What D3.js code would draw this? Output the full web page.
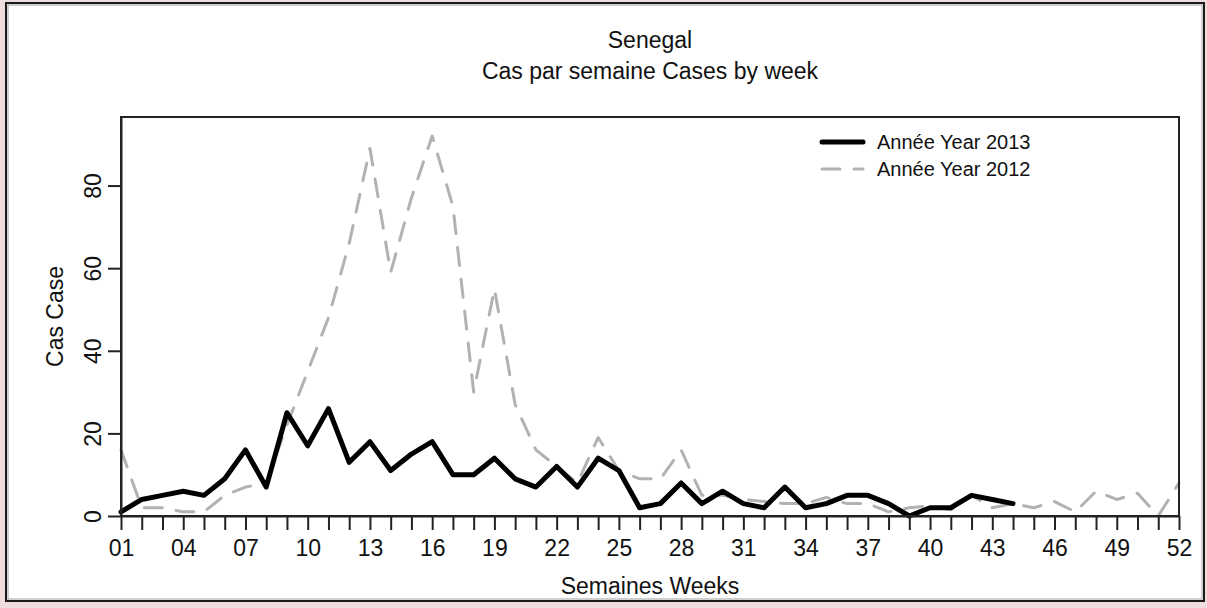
<!DOCTYPE html>
<html>
<head>
<meta charset="utf-8">
<script src="https://cdn.jsdelivr.net/npm/d3@7"></script>
<style>
  body { margin: 0; background: #efdcdc; }
  svg text { font-family: "Liberation Sans", Arial, sans-serif; fill: #111; }
</style>
</head>
<body>
<svg id="chart"></svg>
<script>
// donnees : cas par semaine
var weeks = d3.range(1, 53);
var cases2013 = [1, 4, 5, 6, 5, 9, 16, 7, 25, 17, 26, 13, 18, 11, 15, 18, 10, 10, 14, 9, 7, 12, 7, 14, 11, 2,
    3, 8, 3, 6, 3, 2, 7, 2, 3, 5, 5, 3, 0, 2, 2, 5, 4, 3];
var cases2012 = [16, 2, 2, 1, 1, 5, 7, 8, 22, 35, 48, 66, 89, 59, 77, 92, 75, 30, 55, 27, 16, 12, 8, 19, 11, 9,
    9, 16, 5, 5, 4, 3.5, 3, 3, 4.5, 3, 3, 1, 2, 2.5, 1.5, 5, 2, 3, 2, 3.5, 1, 6, 4, 5.5, 0, 8];
var yTicks = [0, 20, 40, 60, 80];
var series = [
    { label: "Année Year 2013", values: cases2013, color: "#000000", width: 5, dash: null },
    { label: "Année Year 2012", values: cases2012, color: "#b2b2b2", width: 3, dash: "18,14" }
];

var W = 1207, H = 608;
var plot_left = 121, plot_right = 1179, plot_top = 117, plot_bottom = 516;
var fs = 23; //taille du texte

var svg = d3.select("#chart").attr("width", W).attr("height", H);

//panneau blanc
svg.append("rect").attr("x", 6).attr("y", 3).attr("width", 1198).attr("height", 598)
    .style("fill", "#ffffff").style("stroke", "#1a1a1a").style("stroke-width", 2);
svg.append("rect").attr("x", 8).attr("y", 5).attr("width", 1194).attr("height", 594)
    .style("fill", "none").style("stroke", "#a0a0a0").style("stroke-width", 1);

var x = d3.scaleLinear().domain([1, 52]).range([plot_left, plot_right]);
var y = d3.scaleLinear().domain([0, 96.6]).range([plot_bottom, plot_top]);

//titres
svg.append("text").attr("x", (plot_left + plot_right) / 2).attr("y", 48).attr("text-anchor", "middle")
    .style("font-size", fs + "px").text("Senegal");
svg.append("text").attr("x", (plot_left + plot_right) / 2).attr("y", 79).attr("text-anchor", "middle")
    .style("font-size", fs + "px").text("Cas par semaine Cases by week");

//courbes
var line = d3.line().x((d, i) => x(weeks[i])).y(d => y(d));
series.slice().reverse().forEach(s => {
    svg.append("path").datum(s.values).attr("d", line)
        .style("fill", "none").style("stroke", s.color).style("stroke-width", s.width)
        .style("stroke-linejoin", "round").style("stroke-linecap", "round")
        .style("stroke-dasharray", s.dash);
});

//cadre
svg.append("rect").attr("x", plot_left).attr("y", plot_top)
    .attr("width", plot_right - plot_left).attr("height", plot_bottom - plot_top)
    .style("fill", "none").style("stroke", "#222").style("stroke-width", 2);

//axe x
var xAxis = svg.append("g").attr("transform", `translate(0,${plot_bottom})`)
    .call(d3.axisBottom(x).tickValues(weeks).tickSize(14).tickSizeOuter(0).tickPadding(10)
        .tickFormat(d => (d - 1) % 3 == 0 ? d3.format("02")(d) : ""));
xAxis.selectAll("line").style("stroke", "#222").style("stroke-width", 2);
xAxis.select(".domain").style("stroke", "#222").style("stroke-width", 2);
xAxis.selectAll("text").style("font-size", fs + "px").style("font-family", null);

//axe y
var yAxis = svg.append("g").attr("transform", `translate(${plot_left},0)`)
    .call(d3.axisLeft(y).tickValues(yTicks).tickSize(13).tickSizeOuter(0));
yAxis.selectAll("line").style("stroke", "#222").style("stroke-width", 2);
yAxis.select(".domain").style("stroke", "#222").style("stroke-width", 2);
yAxis.selectAll("text").attr("x", null).attr("dy", null).attr("text-anchor", "middle")
    .attr("transform", "translate(-20,0) rotate(-90)")
    .style("font-size", fs + "px").style("font-family", null);

//titres des axes
svg.append("text").attr("x", (plot_left + plot_right) / 2).attr("y", 594).attr("text-anchor", "middle")
    .style("font-size", fs + "px").text("Semaines Weeks");
svg.append("text").attr("transform", `translate(63,${(plot_top + plot_bottom) / 2}) rotate(-90)`)
    .attr("text-anchor", "middle").style("font-size", fs + "px").text("Cas Case");

//legende
var leg = svg.append("g").selectAll("g").data(series).enter().append("g")
    .attr("transform", (d, i) => `translate(822,${142 + i * 27})`);
leg.append("line").attr("x1", 0).attr("x2", 41).attr("y1", 0).attr("y2", 0)
    .style("stroke", d => d.color).style("stroke-width", d => d.width)
    .style("stroke-dasharray", d => d.dash).style("stroke-linecap", "round");
leg.append("text").attr("x", 55).attr("dy", "0.35em").style("font-size", "20px").text(d => d.label);
</script>
</body>
</html>
